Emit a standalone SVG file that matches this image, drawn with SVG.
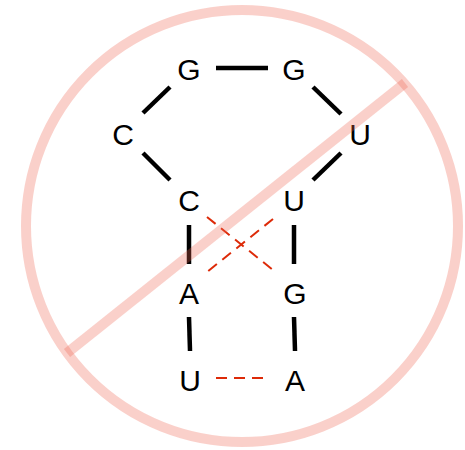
<svg xmlns="http://www.w3.org/2000/svg" width="465" height="450" viewBox="0 0 465 450">
<style>
.base{font-family:"Liberation Sans","DejaVu Sans",sans-serif;font-size:30px;fill:#000;text-anchor:middle}
.bond{stroke:#000;stroke-width:4.5;fill:none}
.pair{stroke:#dd2a08;stroke-width:2;stroke-dasharray:11 7;fill:none}
.ban{stroke:#f06450;stroke-opacity:0.3;stroke-width:10;fill:none}
</style>
<rect width="465" height="450" fill="#fff"/>
<g id="connectors">
<line class="bond" x1="216" y1="68" x2="268" y2="68"/>
<line class="bond" x1="170" y1="87" x2="143" y2="113"/>
<line class="bond" x1="313" y1="87" x2="341" y2="114"/>
<line class="bond" x1="143" y1="153" x2="170" y2="180"/>
<line class="bond" x1="341" y1="153" x2="313" y2="180"/>
<line class="bond" x1="189" y1="225" x2="189" y2="264"/>
<line class="bond" x1="294" y1="225" x2="294" y2="264"/>
<line class="bond" x1="189" y1="317" x2="190" y2="351"/>
<line class="bond" x1="294" y1="317" x2="295" y2="351"/>
<line class="pair" x1="207" y1="217" x2="273" y2="270"/>
<line class="pair" x1="273" y1="219" x2="207" y2="272"/>
<line class="pair" x1="216" y1="378" x2="264" y2="378"/>
</g>
<g id="n1"><text class="base" x="189" y="80">G</text></g>
<g id="n2"><text class="base" x="294" y="80">G</text></g>
<g id="n3"><text class="base" x="123" y="145">C</text></g>
<g id="n4"><text class="base" x="360" y="145">U</text></g>
<g id="n5"><text class="base" x="189" y="211">C</text></g>
<g id="n6"><text class="base" x="294" y="211">U</text></g>
<g id="n7"><text class="base" x="189" y="304">A</text></g>
<g id="n8"><text class="base" x="295" y="304">G</text></g>
<g id="n9"><text class="base" x="190" y="391">U</text></g>
<g id="n10"><text class="base" x="295" y="391">A</text></g>
<g id="prohibition">
<circle class="ban" cx="242" cy="226" r="216"/>
<line class="ban" x1="67" y1="353" x2="405" y2="83"/>
</g>
</svg>
